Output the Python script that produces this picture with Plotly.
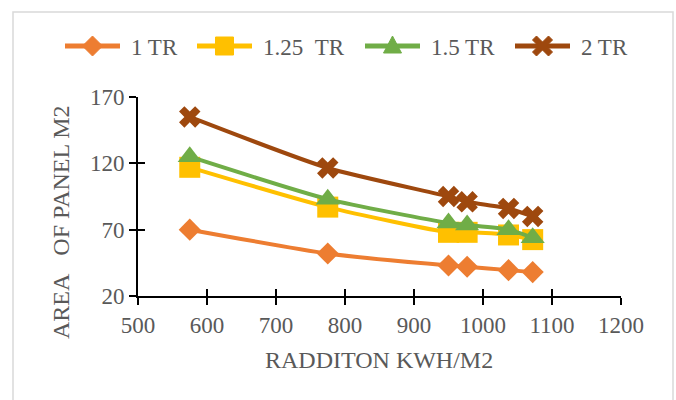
import plotly.graph_objects as go

radiation = [575, 775, 950, 977, 1037, 1072]
series_names = ["1 TR", "1.25\u00a0\u00a0TR", "1.5 TR", "2 TR"]
area_1tr = [70, 52, 43, 42, 39.5, 38]
area_125tr = [117, 87, 68, 68, 66, 62.5]
area_15tr = [125, 93, 75, 73.5, 70, 64]
area_2tr = [155, 116.5, 95, 91, 86, 80]
x_ticks = [500, 600, 700, 800, 900, 1000, 1100, 1200]
y_ticks = [20, 70, 120, 170]

colors = ["#ED7D31", "#FFC000", "#70AD47", "#9E480E"]
symbols = ["diamond", "square", "triangle-up", "x"]
msizes = [17, 21, 21, 19]
values = [area_1tr, area_125tr, area_15tr, area_2tr]

FONT = "Liberation Serif"
GRAY = "#595959"
W, H = 676, 400
L, R, T, B = 138, 55, 97, 104
pw, ph = W - L - R, H - T - B
FS = 23


def px_x(px):
    return (px - L) / pw


def px_y(py):
    return (H - B - py) / ph


fig = go.Figure()
for name, vals, c, s, ms in zip(series_names, values, colors, symbols, msizes):
    fig.add_trace(go.Scatter(
        x=radiation, y=vals, name=name, mode="lines+markers",
        line=dict(color=c, width=4, shape="spline", smoothing=0.6),
        marker=dict(symbol=s, size=ms, color=c, line=dict(width=0)),
        showlegend=False,
    ))

# invisible trace on overlay axes to get crossing ticks
fig.add_trace(go.Scatter(x=[x_ticks[0]], y=[y_ticks[0]], xaxis="x2", yaxis="y2",
                         mode="markers", marker=dict(opacity=0), showlegend=False,
                         hoverinfo="skip"))

# custom legend (line + marker swatch + label), pixel-sized marker shapes
legend_paths = {
    "diamond": "M0,-10 L10,0 L0,10 L-10,0 Z",
    "square": "M-9,-9 L9,-9 L9,9 L-9,9 Z",
    "triangle-up": "M-9,-7 L9,-7 L0,10 Z",
    "x": ("M0,4 L6,10 L10,6 L4,0 L10,-6 L6,-10 L0,-4 L-6,-10 "
          "L-10,-6 L-4,0 L-10,6 L-6,10 Z"),
}
leg_starts = [65, 197, 365, 515]
leg_y = 46
for name, c, s, x0 in zip(series_names, colors, symbols, leg_starts):
    fig.add_shape(type="line", xref="paper", yref="paper",
                  x0=px_x(x0), x1=px_x(x0 + 55), y0=px_y(leg_y), y1=px_y(leg_y),
                  line=dict(color=c, width=5))
    fig.add_shape(type="path", xref="paper", yref="paper",
                  xsizemode="pixel", ysizemode="pixel",
                  xanchor=px_x(x0 + 27.5), yanchor=px_y(leg_y),
                  path=legend_paths[s], fillcolor=c, line=dict(color=c, width=1))
    fig.add_annotation(text=name, xref="paper", yref="paper",
                       x=px_x(x0 + 64), y=px_y(leg_y + 1),
                       xanchor="left", yanchor="middle", showarrow=False,
                       font=dict(size=FS, color=GRAY, family=FONT))

axis_common = dict(showgrid=False, zeroline=False, linecolor="black", linewidth=2,
                   tickcolor="black", tickwidth=2, ticklen=7)

fig.update_layout(
    width=W, height=H,
    margin=dict(l=L, r=R, t=T, b=B),
    paper_bgcolor="white", plot_bgcolor="white",
    font=dict(family=FONT, color=GRAY, size=FS),
    showlegend=False,
    xaxis=dict(range=[500, 1200], tickvals=x_ticks, ticks="outside",
               showline=True, tickfont=dict(size=FS, color=GRAY, family=FONT), **axis_common),
    yaxis=dict(range=[20, 170], tickvals=y_ticks, ticks="outside",
               showline=True, tickfont=dict(size=FS, color=GRAY, family=FONT), **axis_common),
    xaxis2=dict(range=[500, 1200], tickvals=x_ticks, ticks="inside",
                overlaying="x", showticklabels=False, showline=False, **axis_common),
    yaxis2=dict(range=[20, 170], tickvals=y_ticks, ticks="inside",
                overlaying="y", showticklabels=False, showline=False, **axis_common),
)

fig.add_annotation(text="RADDITON KWH/M2", xref="paper", yref="paper",
                   x=px_x(379), y=px_y(360), xanchor="center", yanchor="middle",
                   showarrow=False, font=dict(size=24, color=GRAY, family=FONT))
fig.add_annotation(text="AREA\u00a0\u00a0\u00a0OF PANEL M2", xref="paper", yref="paper",
                   x=px_x(61), y=px_y(222), xanchor="center", yanchor="middle",
                   showarrow=False, textangle=-90,
                   font=dict(size=24, color=GRAY, family=FONT))

fig.add_shape(type="rect", xref="paper", yref="paper",
              x0=px_x(13), x1=px_x(673), y0=px_y(430), y1=px_y(12),
              line=dict(color="#D9D9D9", width=1.5), layer="below")

fig.write_html("out.html")
